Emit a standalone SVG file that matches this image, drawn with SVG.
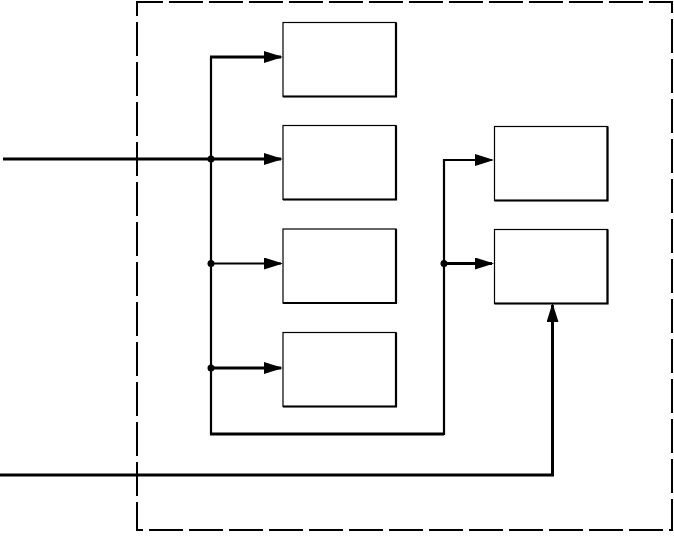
<svg xmlns="http://www.w3.org/2000/svg" width="674" height="558" viewBox="0 0 674 558">
<style>
.box rect{fill:#fff;stroke:#000;stroke-width:1.2}
.box polyline{fill:none;stroke:#000;stroke-width:2.2}
.w{fill:none;stroke:#000;stroke-linejoin:miter}
.t3{stroke-width:3}
.t2{stroke-width:2.2}
.dot{fill:#000}
</style>
<defs>
<marker id="ah" markerUnits="userSpaceOnUse" markerWidth="22" markerHeight="14" refX="17" refY="6" orient="auto">
<path d="M0,0 L19,6 L0,12 z" fill="#000"/>
</marker>
</defs>
<path d="M137,2 H672 V530 H137 Z" fill="none" stroke="#000" stroke-width="2" stroke-dasharray="34 6" stroke-dashoffset="8"/>
<g id="b1" class="box"><rect x="283" y="22.5" width="113" height="74"/><polyline points="396,22.5 396,96.5 283,96.5"/></g>
<g id="b2" class="box"><rect x="283" y="125.5" width="113" height="74"/><polyline points="396,125.5 396,199.5 283,199.5"/></g>
<g id="b3" class="box"><rect x="283" y="229" width="113" height="74"/><polyline points="396,229 396,303 283,303"/></g>
<g id="b4" class="box"><rect x="283" y="332.5" width="113" height="74"/><polyline points="396,332.5 396,406.5 283,406.5"/></g>
<g id="b5" class="box"><rect x="494.5" y="126.5" width="113" height="74"/><polyline points="607.5,126.5 607.5,200.5 494.5,200.5"/></g>
<g id="b6" class="box"><rect x="494.5" y="229.5" width="113" height="74"/><polyline points="607.5,229.5 607.5,303.5 494.5,303.5"/></g>
<g id="connectors">
<path class="w t3" d="M3,159 H281" marker-end="url(#ah)"/>
<path class="w t2" d="M211,57 V434"/>
<path class="w t3" d="M210,57 H281" marker-end="url(#ah)"/>
<path class="w t2" d="M211,263.5 H281" marker-end="url(#ah)"/>
<path class="w t3" d="M211,368 H281" marker-end="url(#ah)"/>
<path class="w t3" d="M210,434 H444"/>
<path class="w t2" d="M444,435 V160 H492" marker-end="url(#ah)"/>
<path class="w t3" d="M444,263.5 H492" marker-end="url(#ah)"/>
<path class="w t3" d="M0,475 H552.5 V305" marker-end="url(#ah)"/>
<circle class="dot" cx="211" cy="159" r="3.5"/>
<circle class="dot" cx="211" cy="263.5" r="3.5"/>
<circle class="dot" cx="211" cy="368" r="3.5"/>
<circle class="dot" cx="444" cy="263.5" r="3.5"/>
</g>
</svg>
